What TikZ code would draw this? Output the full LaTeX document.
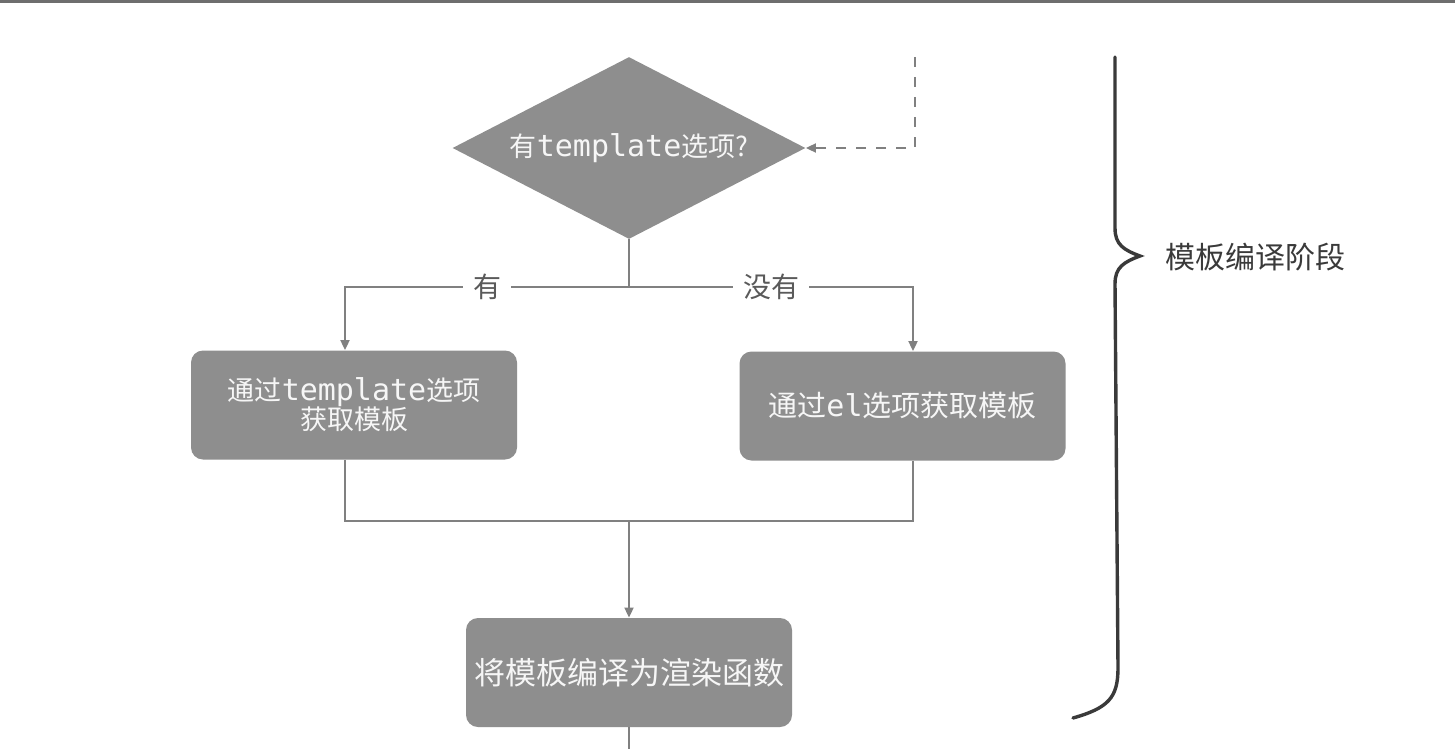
\documentclass[tikz,border=0pt]{standalone}
\usepackage{fontspec}
\setmainfont{Noto Sans CJK SC}
\newfontfamily\monof{DejaVu Sans Mono}
\usetikzlibrary{shapes.geometric,arrows.meta}
\definecolor{boxgray}{RGB}{142,142,142}
\definecolor{linegray}{RGB}{128,128,128}
\definecolor{bracegray}{RGB}{58,58,58}
\definecolor{txtwhite}{RGB}{246,246,246}
\definecolor{labelgray}{RGB}{90,90,90}
\definecolor{rulegray}{RGB}{110,110,110}
\begin{document}
\begin{tikzpicture}[x=0.5pt,y=-0.5pt,
  decision/.style={diamond, fill=boxgray, text=txtwhite, minimum width=176.5pt, minimum height=91pt, inner sep=0pt, aspect=1.94, font=\fontsize{13.5}{15}\selectfont},
  procbox/.style={rectangle, rounded corners=6pt, fill=boxgray, text=txtwhite, minimum width=163pt, minimum height=54.5pt, inner sep=0pt, align=center},
  conn/.style={draw=linegray, line width=0.9pt},
  tipped/.style={-{Triangle[length=5pt,width=4.5pt]}},
  branchlbl/.style={fill=white, text=labelgray, inner xsep=5pt, font=\fontsize{14}{16}\selectfont},
]
\useasboundingbox (0,0) rectangle (1455,749);
\fill[white] (0,0) rectangle (1455,749);
\draw[rulegray, line width=1.5pt] (0,2) -- (1455,2);

\node[decision] (dia) at (629,148) {有{\monof\fontsize{15}{15}\selectfont template}选项?};
\node[procbox, font=\fontsize{13.5}{14.5}\selectfont] (lbox) at (354,405) {通过{\monof\fontsize{15}{14.5}\selectfont template}选项\\获取模板};
\node[procbox, font=\fontsize{14.5}{16}\selectfont] (rbox) at (902.5,406) {通过{\monof\fontsize{15}{16}\selectfont el}选项获取模板};
\node[procbox, font=\fontsize{15.5}{17}\selectfont] (bbox) at (629,672.5) {将模板编译为渲染函数};
\node[anchor=west, text=bracegray, inner sep=0pt, font=\fontsize{15}{17}\selectfont] (phase) at (1165,257) {模板编译阶段};

\coordinate (split) at (629,287);
\coordinate (lturn) at (345,287);
\coordinate (rturn) at (913,287);
\coordinate (ljoin) at (345,521);
\coordinate (rjoin) at (913,521);
\coordinate (merge) at (629,521);
\coordinate (outEnd) at (629,749);
\coordinate (loopTop) at (915,57);

\draw[conn] (dia.south) -- (split);
\draw[conn, tipped] (split) -- node[branchlbl]{有} (lturn) -- (lturn |- lbox.north);
\draw[conn, tipped] (split) -- node[branchlbl]{没有} (rturn) -- (rturn |- rbox.north);
\draw[conn] (lturn |- lbox.south) -- (ljoin) -- (rjoin) -- (rturn |- rbox.south);
\draw[conn, tipped] (merge) -- (bbox.north);
\draw[conn] (bbox.south) -- (outEnd);
\draw[conn, dash pattern=on 5pt off 5pt, tipped] (loopTop) |- (dia.east);

\draw[bracegray, line width=1.7pt, line cap=round]
  (1115,57) -- (1115,228)
  .. controls (1115,245) and (1124,250) .. (1140,256)
  .. controls (1124,262) and (1115,267) .. (1115,284)
  -- (1118,668)
  .. controls (1118,698) and (1108,708) .. (1073,718);
\end{tikzpicture}
\end{document}
